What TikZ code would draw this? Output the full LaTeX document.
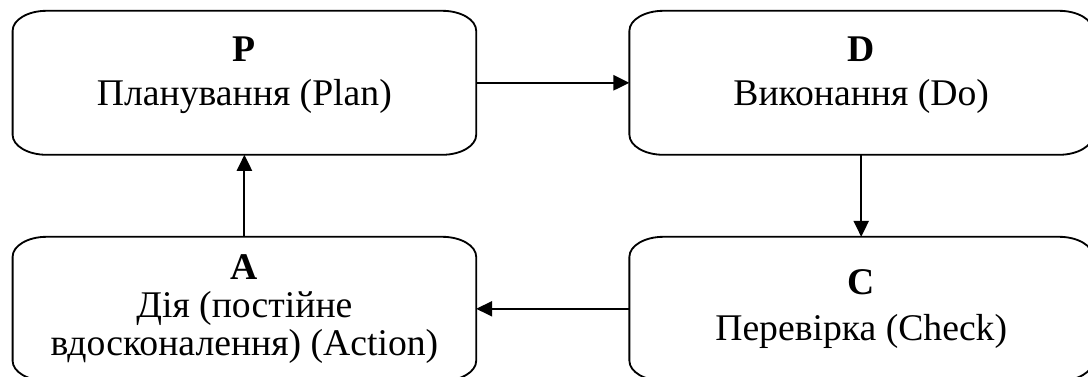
\documentclass[tikz,border=0pt]{standalone}
\usepackage{fontspec}
\setmainfont{Liberation Serif}
\usetikzlibrary{arrows.meta, positioning}

\tikzset{
  moldura/.style={line width=1.3pt},
}

\newcommand{\moldura}[1]{%
  \draw[moldura] ([xshift=0.85cm]#1.north west) -- ([xshift=-0.85cm]#1.north east)
    arc[start angle=90, end angle=0, x radius=0.85cm, y radius=0.5cm]
    -- ([yshift=0.5cm]#1.south east)
    arc[start angle=0, end angle=-90, x radius=0.85cm, y radius=0.5cm]
    -- ([xshift=0.85cm]#1.south west)
    arc[start angle=270, end angle=180, x radius=0.85cm, y radius=0.5cm]
    -- ([yshift=-0.5cm]#1.north west)
    arc[start angle=180, end angle=90, x radius=0.85cm, y radius=0.5cm]
    -- cycle;}

\begin{document}
\begin{tikzpicture}[
    etapa/.style={
        minimum width=11.59cm,
        minimum height=3.6cm,
        inner sep=0pt,
        outer sep=0pt,
        align=center,
        font=\fontsize{26.8}{27}\selectfont
    },
    etapacima/.style={
        etapa,
        text depth=0.6cm
    },
    seta/.style={
        -{Triangle[length=0.4cm, width=0.38cm]},
        line width=1.3pt
    }
]

\useasboundingbox (0,0) rectangle (27.2,9.4);
\clip (0,0) rectangle (27.2,9.4);

\node[etapacima] (plan) at (6.11,7.33)
{\textbf{P}\\[0.15cm]
Планування (Plan)};

\node[etapacima] (do) at (21.53,7.33)
{\textbf{D}\\[0.15cm]
Виконання (Do)};

\node[etapa] (check) at (21.53,1.68)
{\textbf{C}\\[0.2cm]
Перевірка (Check)};

\node[etapa] (act) at (6.11,1.68)
{\textbf{A}\\
Дія (постійне\\
вдосконалення) (Action)};

\moldura{plan}
\moldura{do}
\moldura{check}
\moldura{act}

\draw[seta] (plan) -- (do);
\draw[seta] (do) -- (check);
\draw[seta] (check) -- (act);
\draw[seta] (act) -- (plan);

\end{tikzpicture}
\end{document}
